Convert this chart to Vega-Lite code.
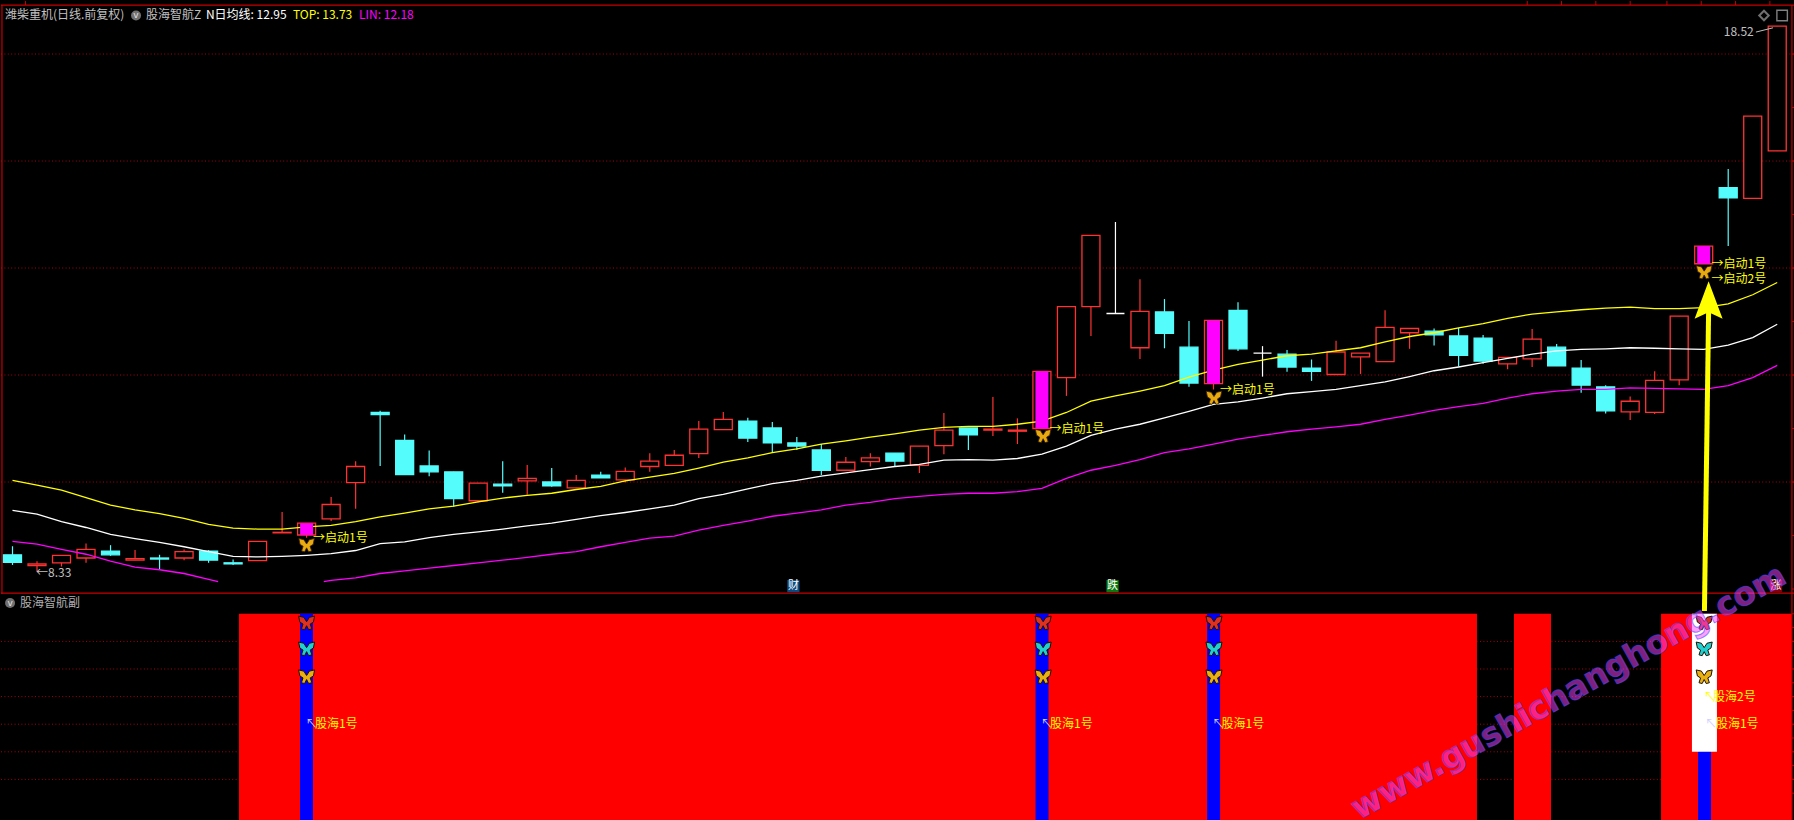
{"$schema":"https://vega.github.io/schema/vega-lite/v6.json","padding":0,"background":"#000000","spacing":0,"bounds":"flush","config":{"view":{"stroke":null},"legend":{"disable":true},"axis":{"disable":true}},"datasets":{"k":[
{"i":0,"d":"d","o":8.64,"c":8.50,"h":8.80,"l":8.45,"N":9.47,"T":10.03},
{"i":1,"d":"u","o":8.44,"c":8.47,"h":8.52,"l":8.33,"N":9.40,"T":9.94},
{"i":2,"d":"u","o":8.49,"c":8.63,"h":8.63,"l":8.42,"N":9.26,"T":9.85},
{"i":3,"d":"u","o":8.58,"c":8.74,"h":8.85,"l":8.49,"N":9.15,"T":9.71},
{"i":4,"d":"d","o":8.71,"c":8.64,"h":8.82,"l":8.62,"N":9.02,"T":9.57},
{"i":5,"d":"u","o":8.54,"c":8.57,"h":8.73,"l":8.54,"N":8.94,"T":9.48},
{"i":6,"d":"d","o":8.58,"c":8.56,"h":8.64,"l":8.37,"N":8.87,"T":9.41},
{"i":7,"d":"u","o":8.58,"c":8.70,"h":8.74,"l":8.54,"N":8.79,"T":9.32},
{"i":8,"d":"d","o":8.71,"c":8.54,"h":8.73,"l":8.49,"N":8.70,"T":9.21},
{"i":9,"d":"d","o":8.49,"c":8.47,"h":8.55,"l":8.45,"N":8.61,"T":9.14},
{"i":10,"d":"u","o":8.53,"c":8.89,"h":8.89,"l":8.53,"N":8.60,"T":9.12},
{"i":11,"d":"u","o":9.05,"c":9.06,"h":9.44,"l":9.05,"N":8.61,"T":9.12},
{"i":12,"d":"u","o":9.01,"c":9.23,"h":9.23,"l":8.96,"N":8.63,"T":9.16,"s":1},
{"i":13,"d":"u","o":9.31,"c":9.58,"h":9.72,"l":9.27,"N":8.66,"T":9.19},
{"i":14,"d":"u","o":9.99,"c":10.29,"h":10.39,"l":9.50,"N":8.72,"T":9.26},
{"i":15,"d":"d","o":11.30,"c":11.26,"h":11.33,"l":10.30,"N":8.85,"T":9.35},
{"i":16,"d":"d","o":10.78,"c":10.14,"h":10.89,"l":10.14,"N":8.88,"T":9.42},
{"i":17,"d":"d","o":10.30,"c":10.19,"h":10.59,"l":10.11,"N":8.96,"T":9.50},
{"i":18,"d":"d","o":10.19,"c":9.69,"h":10.19,"l":9.54,"N":9.02,"T":9.55},
{"i":19,"d":"u","o":9.65,"c":9.98,"h":9.98,"l":9.62,"N":9.07,"T":9.63},
{"i":20,"d":"d","o":9.96,"c":9.93,"h":10.39,"l":9.80,"N":9.12,"T":9.70},
{"i":21,"d":"u","o":10.02,"c":10.07,"h":10.32,"l":9.76,"N":9.18,"T":9.75},
{"i":22,"d":"d","o":10.00,"c":9.93,"h":10.26,"l":9.91,"N":9.23,"T":9.79},
{"i":23,"d":"u","o":9.89,"c":10.03,"h":10.13,"l":9.89,"N":9.30,"T":9.86},
{"i":24,"d":"d","o":10.13,"c":10.08,"h":10.19,"l":10.08,"N":9.37,"T":9.92},
{"i":25,"d":"u","o":10.04,"c":10.20,"h":10.27,"l":9.99,"N":9.43,"T":10.02},
{"i":26,"d":"u","o":10.29,"c":10.39,"h":10.54,"l":10.19,"N":9.50,"T":10.09},
{"i":27,"d":"u","o":10.31,"c":10.50,"h":10.60,"l":10.31,"N":9.57,"T":10.16},
{"i":28,"d":"u","o":10.53,"c":10.99,"h":11.14,"l":10.45,"N":9.69,"T":10.26},
{"i":29,"d":"u","o":10.98,"c":11.17,"h":11.31,"l":10.98,"N":9.77,"T":10.37},
{"i":30,"d":"d","o":11.14,"c":10.82,"h":11.20,"l":10.75,"N":9.87,"T":10.45},
{"i":31,"d":"d","o":11.01,"c":10.73,"h":11.12,"l":10.55,"N":9.97,"T":10.55},
{"i":32,"d":"d","o":10.73,"c":10.67,"h":10.84,"l":10.60,"N":10.03,"T":10.62},
{"i":33,"d":"d","o":10.60,"c":10.22,"h":10.71,"l":10.13,"N":10.11,"T":10.71},
{"i":34,"d":"u","o":10.22,"c":10.37,"h":10.47,"l":10.22,"N":10.17,"T":10.77},
{"i":35,"d":"u","o":10.38,"c":10.45,"h":10.54,"l":10.29,"N":10.23,"T":10.84},
{"i":36,"d":"d","o":10.54,"c":10.39,"h":10.54,"l":10.29,"N":10.29,"T":10.90},
{"i":37,"d":"u","o":10.31,"c":10.67,"h":10.67,"l":10.17,"N":10.33,"T":10.97},
{"i":38,"d":"u","o":10.68,"c":10.97,"h":11.29,"l":10.52,"N":10.41,"T":11.02},
{"i":39,"d":"d","o":11.01,"c":10.88,"h":11.01,"l":10.60,"N":10.42,"T":11.04},
{"i":40,"d":"u","o":10.97,"c":10.99,"h":11.59,"l":10.86,"N":10.41,"T":11.04},
{"i":41,"d":"u","o":10.95,"c":10.97,"h":11.19,"l":10.71,"N":10.44,"T":11.08},
{"i":42,"d":"u","o":11.00,"c":12.07,"h":12.07,"l":11.00,"N":10.52,"T":11.14,"s":1},
{"i":43,"d":"u","o":11.95,"c":13.28,"h":13.28,"l":11.61,"N":10.67,"T":11.30},
{"i":44,"d":"u","o":13.28,"c":14.61,"h":14.61,"l":12.73,"N":10.87,"T":11.51},
{"i":45,"d":"f","o":13.15,"c":13.15,"h":14.86,"l":13.15,"N":10.99,"T":11.61},
{"i":46,"d":"u","o":12.51,"c":13.19,"h":13.79,"l":12.30,"N":11.08,"T":11.70},
{"i":47,"d":"d","o":13.18,"c":12.78,"h":13.42,"l":12.50,"N":11.20,"T":11.80},
{"i":48,"d":"d","o":12.52,"c":11.85,"h":13.01,"l":11.78,"N":11.32,"T":11.96},
{"i":49,"d":"u","o":11.84,"c":13.02,"h":13.02,"l":11.73,"N":11.45,"T":12.09,"s":1},
{"i":50,"d":"d","o":13.21,"c":12.49,"h":13.36,"l":12.45,"N":11.50,"T":12.20},
{"i":51,"d":"f","o":12.41,"c":12.41,"h":12.54,"l":11.97,"N":11.57,"T":12.28},
{"i":52,"d":"d","o":12.39,"c":12.15,"h":12.47,"l":12.06,"N":11.65,"T":12.36},
{"i":53,"d":"d","o":12.13,"c":12.07,"h":12.29,"l":11.89,"N":11.69,"T":12.39},
{"i":54,"d":"u","o":12.01,"c":12.43,"h":12.64,"l":12.01,"N":11.73,"T":12.45},
{"i":55,"d":"u","o":12.34,"c":12.41,"h":12.41,"l":12.02,"N":11.80,"T":12.51},
{"i":56,"d":"u","o":12.25,"c":12.89,"h":13.21,"l":12.25,"N":11.87,"T":12.62},
{"i":57,"d":"u","o":12.79,"c":12.87,"h":12.87,"l":12.49,"N":11.97,"T":12.72},
{"i":58,"d":"d","o":12.82,"c":12.75,"h":12.87,"l":12.55,"N":12.08,"T":12.79},
{"i":59,"d":"d","o":12.73,"c":12.37,"h":12.88,"l":12.16,"N":12.15,"T":12.88},
{"i":60,"d":"d","o":12.69,"c":12.26,"h":12.75,"l":12.21,"N":12.23,"T":12.96},
{"i":61,"d":"u","o":12.21,"c":12.33,"h":12.33,"l":12.11,"N":12.31,"T":13.06},
{"i":62,"d":"u","o":12.30,"c":12.67,"h":12.86,"l":12.15,"N":12.39,"T":13.14},
{"i":63,"d":"d","o":12.52,"c":12.17,"h":12.58,"l":12.17,"N":12.45,"T":13.18},
{"i":64,"d":"d","o":12.13,"c":11.81,"h":12.28,"l":11.67,"N":12.48,"T":13.22},
{"i":65,"d":"d","o":11.78,"c":11.33,"h":11.81,"l":11.28,"N":12.49,"T":13.25},
{"i":66,"d":"u","o":11.31,"c":11.51,"h":11.60,"l":11.16,"N":12.51,"T":13.27},
{"i":67,"d":"u","o":11.30,"c":11.90,"h":12.07,"l":11.27,"N":12.50,"T":13.24},
{"i":68,"d":"u","o":11.91,"c":13.10,"h":13.10,"l":11.81,"N":12.49,"T":13.24},
{"i":69,"d":"u","o":14.08,"c":14.41,"h":14.41,"l":14.08,"N":12.48,"T":13.26,"s":1},
{"i":70,"d":"d","o":15.50,"c":15.31,"h":15.85,"l":14.41,"N":12.56,"T":13.33},
{"i":71,"d":"u","o":15.30,"c":16.84,"h":16.84,"l":15.30,"N":12.70,"T":13.50},
{"i":72,"d":"u","o":16.19,"c":18.52,"h":18.52,"l":16.19,"N":12.95,"T":13.73}
],"lin":[
{"i":0,"p":8.89,"g":"a"},{"i":1,"p":8.84,"g":"a"},{"i":2,"p":8.74,"g":"a"},{"i":3,"p":8.65,"g":"a"},{"i":4,"p":8.52,"g":"a"},{"i":5,"p":8.41,"g":"a"},{"i":6,"p":8.36,"g":"a"},{"i":7,"p":8.29,"g":"a"},{"i":8,"p":8.18,"g":"a"},{"i":8.39,"p":8.14,"g":"a"},
{"i":12.7,"p":8.14,"g":"b"},{"i":13,"p":8.16,"g":"b"},{"i":14,"p":8.21,"g":"b"},{"i":15,"p":8.29,"g":"b"},{"i":16,"p":8.34,"g":"b"},{"i":17,"p":8.39,"g":"b"},{"i":18,"p":8.44,"g":"b"},{"i":19,"p":8.49,"g":"b"},{"i":20,"p":8.54,"g":"b"},{"i":21,"p":8.59,"g":"b"},{"i":22,"p":8.65,"g":"b"},{"i":23,"p":8.70,"g":"b"},{"i":24,"p":8.79,"g":"b"},{"i":25,"p":8.87,"g":"b"},{"i":26,"p":8.95,"g":"b"},{"i":27,"p":8.99,"g":"b"},{"i":28,"p":9.10,"g":"b"},{"i":29,"p":9.19,"g":"b"},{"i":30,"p":9.27,"g":"b"},{"i":31,"p":9.36,"g":"b"},{"i":32,"p":9.42,"g":"b"},{"i":33,"p":9.48,"g":"b"},{"i":34,"p":9.57,"g":"b"},{"i":35,"p":9.62,"g":"b"},{"i":36,"p":9.69,"g":"b"},{"i":37,"p":9.73,"g":"b"},{"i":38,"p":9.77,"g":"b"},{"i":39,"p":9.79,"g":"b"},{"i":40,"p":9.79,"g":"b"},{"i":41,"p":9.82,"g":"b"},{"i":42,"p":9.88,"g":"b"},{"i":43,"p":10.07,"g":"b"},{"i":44,"p":10.22,"g":"b"},{"i":45,"p":10.31,"g":"b"},{"i":46,"p":10.42,"g":"b"},{"i":47,"p":10.55,"g":"b"},{"i":48,"p":10.62,"g":"b"},{"i":49,"p":10.71,"g":"b"},{"i":50,"p":10.80,"g":"b"},{"i":51,"p":10.87,"g":"b"},{"i":52,"p":10.94,"g":"b"},{"i":53,"p":10.99,"g":"b"},{"i":54,"p":11.03,"g":"b"},{"i":55,"p":11.08,"g":"b"},{"i":56,"p":11.17,"g":"b"},{"i":57,"p":11.25,"g":"b"},{"i":58,"p":11.34,"g":"b"},{"i":59,"p":11.41,"g":"b"},{"i":60,"p":11.47,"g":"b"},{"i":61,"p":11.57,"g":"b"},{"i":62,"p":11.65,"g":"b"},{"i":63,"p":11.70,"g":"b"},{"i":64,"p":11.73,"g":"b"},{"i":65,"p":11.73,"g":"b"},{"i":66,"p":11.76,"g":"b"},{"i":67,"p":11.75,"g":"b"},{"i":68,"p":11.74,"g":"b"},{"i":69,"p":11.73,"g":"b"},{"i":70,"p":11.80,"g":"b"},{"i":71,"p":11.95,"g":"b"},{"i":72,"p":12.18,"g":"b"}
]},"vconcat":[{"width":1794,"height":593,"encoding":{"x":{"field":"i","type":"quantitative","scale":{"domain":[-0.469,72.725],"nice":false,"padding":0}},"y":{"field":"p","type":"quantitative","scale":{"domain":[7.907,18.991],"nice":false}}},"resolve":{"scale":{"color":"independent"}},"layer":[
{"data":{"values":[{"p":18},{"p":16},{"p":14},{"p":12},{"p":10}]},"mark":{"type":"rule","color":"#a80010","strokeDash":[1,2.4],"strokeWidth":1},"encoding":{"x":{"value":0},"x2":{"value":1794}}},
{"data":{"values":[{"p":18.915},{"p":7.925}]},"mark":{"type":"rule","color":"#c80000","strokeWidth":1.2},"encoding":{"x":{"value":0},"x2":{"value":1794}}},
{"data":{"values":[{"i":-0.43},{"i":72.6}]},"mark":{"type":"rule","color":"#c80000","strokeWidth":1.2},"encoding":{"y":{"value":4},"y2":{"value":593}}},
{"data":{"values":[{"i":0.53,"t":18.99,"b":18.915},{"i":61.8,"t":18.99,"b":18.915},{"i":63.2,"t":18.99,"b":18.915},{"i":64.6,"t":18.99,"b":18.915},{"i":66,"t":18.99,"b":18.915},{"i":67.5,"t":18.99,"b":18.915},{"i":68.9,"t":18.99,"b":18.915},{"i":70.3,"t":18.99,"b":18.915},{"i":71.7,"t":18.99,"b":18.915}]},"mark":{"type":"rule","color":"#c80000"},"encoding":{"y":{"field":"t","type":"quantitative"},"y2":{"field":"b"}}},
{"data":{"values":[{"i":72.6,"e":72.725,"p":18},{"i":72.6,"e":72.725,"p":17},{"i":72.6,"e":72.725,"p":16},{"i":72.6,"e":72.725,"p":15},{"i":72.6,"e":72.725,"p":14},{"i":72.6,"e":72.725,"p":13},{"i":72.6,"e":72.725,"p":12},{"i":72.6,"e":72.725,"p":11},{"i":72.6,"e":72.725,"p":10},{"i":72.6,"e":72.725,"p":9},{"i":72.6,"e":72.725,"p":8}]},"mark":{"type":"rule","color":"#c80000"},"encoding":{"x2":{"field":"e"}}},
{"data":{"name":"k"},"mark":{"type":"rule","strokeWidth":1.2},"encoding":{"y":{"field":"h","type":"quantitative"},"y2":{"field":"l"},"color":{"field":"d","type":"nominal","scale":{"domain":["u","d","f"],"range":["#ff3232","#54fcfc","#ffffff"]}}}},
{"data":{"name":"k"},"mark":{"type":"bar","size":18,"orient":"vertical","strokeWidth":1.3},"encoding":{"y":{"field":"o","type":"quantitative"},"y2":{"field":"c"},"fill":{"field":"d","type":"nominal","scale":{"domain":["u","d","f"],"range":["#000000","#54fcfc","#ffffff"]}},"stroke":{"field":"d","type":"nominal","scale":{"domain":["u","d","f"],"range":["#ff3232","#54fcfc","#ffffff"]}}}},
{"data":{"name":"k"},"mark":{"type":"line","color":"#ffff00","strokeWidth":1.3},"encoding":{"y":{"field":"T","type":"quantitative"}}},
{"data":{"name":"k"},"mark":{"type":"line","color":"#ffffff","strokeWidth":1.3},"encoding":{"y":{"field":"N","type":"quantitative"}}},
{"data":{"name":"lin"},"mark":{"type":"line","color":"#ff00ff","strokeWidth":1.3},"encoding":{"detail":{"field":"g","type":"nominal"}}},
{"data":{"name":"k"},"transform":[{"filter":"datum.s==1"}],"mark":{"type":"bar","size":13,"orient":"vertical","color":"#ff00ff"},"encoding":{"y":{"field":"o","type":"quantitative"},"y2":{"field":"c"}}},
{"data":{"values":[{"i":12,"p":8.82},{"i":42.05,"p":10.86},{"i":49.02,"p":11.575},{"i":69.02,"p":13.92}]},"mark":{"type":"point","filled":true,"size":240,"fill":"#e8aa10","stroke":"#3a2200","strokeWidth":0.8,"opacity":1,"shape":"M0,-0.15 L-0.35,-0.7 L-1,-0.85 L-0.85,-0.1 L-0.45,0.15 L-0.65,0.75 L-0.25,0.85 L0,0.35 L0.25,0.85 L0.65,0.75 L0.45,0.15 L0.85,-0.1 L1,-0.85 L0.35,-0.7 Z"}},
{"data":{"values":[{"i":69.03,"e":69.2,"p":7.59,"q":13.18}]},"mark":{"type":"rule","color":"#ffff00","strokeWidth":5},"encoding":{"x2":{"field":"e"},"y2":{"field":"q"}}},
{"data":{"values":[{"i":69.2,"p":13.4}]},"mark":{"type":"point","filled":true,"size":784,"fill":"#ffff00","opacity":1,"shape":"M0,-1.35 L1,1.33 L0,0.86 L-1,1.33 Z"}},
{"data":{"values":[{"i":5.04,"p":18.72}]},"mark":{"type":"point","filled":true,"size":100,"opacity":1,"fill":"#707070"}},
{"data":{"values":[{"i":71.46,"p":18.72}]},"mark":{"type":"point","shape":"diamond","size":90,"stroke":"#707070","fill":null,"opacity":1}},
{"data":{"values":[{"i":72.2,"p":18.72}]},"mark":{"type":"point","shape":"square","size":110,"stroke":"#808080","strokeWidth":1.4,"fill":"#000000","opacity":1}},
{"data":{"values":[{"i":31.86,"p":8.055,"k":"c"},{"i":44.88,"p":8.055,"k":"f"},{"i":71.95,"p":8.055,"k":"z"}]},"mark":{"type":"square","size":150,"opacity":1},"encoding":{"color":{"field":"k","type":"nominal","scale":{"domain":["c","f","z"],"range":["#0a4a80","#0a7a10","#800010"]}}}},
{"data":{"values":[{"i":31.86,"p":8.055,"t":"财"},{"i":44.88,"p":8.055,"t":"跌"},{"i":71.95,"p":8.055,"t":"涨"}]},"mark":{"type":"text","font":"Noto Sans CJK SC","fontSize":11,"color":"#ffffff","align":"center","baseline":"middle"},"encoding":{"text":{"field":"t"}}},
{"data":{"values":[{"i":5.04,"p":18.72,"t":"v"}]},"mark":{"type":"text","font":"DejaVu Sans","fontSize":9,"color":"#e0e0e0","align":"center","baseline":"middle"},"encoding":{"text":{"field":"t"}}},
{"data":{"values":[
{"i":-0.31,"p":18.73,"t":"潍柴重机(日线.前复权)","k":"g"},
{"i":5.45,"p":18.73,"t":"股海智航Z","k":"g"},
{"i":7.89,"p":18.73,"t":"N日均线: 12.95","k":"w"},
{"i":11.44,"p":18.73,"t":"TOP: 13.73","k":"y"},
{"i":14.14,"p":18.73,"t":"LIN: 12.18","k":"m"},
{"i":12.26,"p":8.96,"t":"→启动1号","k":"y"},
{"i":42.31,"p":11.0,"t":"→启动1号","k":"y"},
{"i":49.27,"p":11.72,"t":"→启动1号","k":"y"},
{"i":69.32,"p":14.07,"t":"→启动1号","k":"y"},
{"i":69.32,"p":13.79,"t":"→启动2号","k":"y"},
{"i":0.96,"p":8.3,"t":"←8.33","k":"g"},
{"i":69.82,"p":18.42,"t":"18.52","k":"g"}
]},"mark":{"type":"text","font":"Noto Sans CJK SC","fontSize":12,"align":"left","baseline":"middle"},"encoding":{"text":{"field":"t"},"color":{"field":"k","type":"nominal","scale":{"domain":["g","w","y","m"],"range":["#c0c0c0","#ffffff","#ffff00","#ff00ff"]}}}},
{"data":{"values":[{"i":71.13,"e":71.83,"p":18.41,"q":18.49}]},"mark":{"type":"rule","color":"#c0c0c0"},"encoding":{"x2":{"field":"e"},"y2":{"field":"q"}}}
]},
{"width":1794,"height":227,"encoding":{"x":{"field":"i","type":"quantitative","scale":{"domain":[-0.469,72.725],"nice":false,"padding":0}},"y":{"field":"v","type":"quantitative","scale":{"domain":[-0.507,7.717],"nice":false}}},"resolve":{"scale":{"color":"independent"}},"layer":[
{"data":{"values":[{"v":1},{"v":2},{"v":3},{"v":4},{"v":5},{"v":6}]},"mark":{"type":"rule","color":"#a80010","strokeDash":[1,2.4],"strokeWidth":1},"encoding":{"x":{"value":0},"x2":{"value":1794}}},
{"data":{"values":[
{"i":9.24,"e":59.75,"v":7,"b":-0.507,"k":"r"},{"i":61.26,"e":62.77,"v":7,"b":-0.507,"k":"r"},{"i":67.26,"e":72.6,"v":7,"b":-0.507,"k":"r"},
{"i":11.73,"e":12.26,"v":7,"b":-0.507,"k":"b"},{"i":41.74,"e":42.27,"v":7,"b":-0.507,"k":"b"},{"i":48.74,"e":49.27,"v":7,"b":-0.507,"k":"b"},{"i":68.77,"e":69.3,"v":7,"b":-0.507,"k":"b"},
{"i":68.52,"e":69.54,"v":7,"b":2,"k":"w"}]},"mark":{"type":"rect","opacity":1},"encoding":{"x2":{"field":"e"},"y2":{"field":"b"},"color":{"field":"k","type":"nominal","scale":{"domain":["r","b","w"],"range":["#ff0000","#0000ff","#ffffff"]}}}},
{"data":{"values":[{"i":72.6}]},"mark":{"type":"rule","color":"#c80000","strokeWidth":1.2},"encoding":{"y":{"value":0},"y2":{"value":227}}},
{"data":{"values":[{"i":72.6,"e":72.725,"v":0.5},{"i":72.6,"e":72.725,"v":1},{"i":72.6,"e":72.725,"v":1.5},{"i":72.6,"e":72.725,"v":2},{"i":72.6,"e":72.725,"v":2.5},{"i":72.6,"e":72.725,"v":3},{"i":72.6,"e":72.725,"v":3.5},{"i":72.6,"e":72.725,"v":4},{"i":72.6,"e":72.725,"v":4.5},{"i":72.6,"e":72.725,"v":5},{"i":72.6,"e":72.725,"v":5.5},{"i":72.6,"e":72.725,"v":6},{"i":72.6,"e":72.725,"v":6.5},{"i":72.6,"e":72.725,"v":7}]},"mark":{"type":"rule","color":"#c80000"},"encoding":{"x2":{"field":"e"}}},
{"data":{"values":[{"i":-0.1,"v":7.39}]},"mark":{"type":"point","filled":true,"size":100,"fill":"#707070","opacity":1}},
{"data":{"values":[{"i":-0.1,"v":7.39,"t":"v"}]},"mark":{"type":"text","font":"DejaVu Sans","fontSize":9,"color":"#e0e0e0","align":"center","baseline":"middle"},"encoding":{"text":{"field":"t"}}},
{"data":{"values":[
{"i":12,"v":6.67,"k":"r"},{"i":12,"v":5.73,"k":"c"},{"i":12,"v":4.72,"k":"y"},
{"i":42.05,"v":6.67,"k":"r"},{"i":42.05,"v":5.73,"k":"c"},{"i":42.05,"v":4.72,"k":"y"},
{"i":49.02,"v":6.67,"k":"r"},{"i":49.02,"v":5.73,"k":"c"},{"i":49.02,"v":4.72,"k":"y"},
{"i":69.02,"v":6.67,"k":"r"},{"i":69.02,"v":5.73,"k":"c"},{"i":69.02,"v":4.72,"k":"y"}]},"mark":{"type":"point","filled":true,"size":256,"stroke":"#201000","strokeWidth":1,"opacity":1,"shape":"M0,-0.15 L-0.35,-0.7 L-1,-0.85 L-0.85,-0.1 L-0.45,0.15 L-0.65,0.75 L-0.25,0.85 L0,0.35 L0.25,0.85 L0.65,0.75 L0.45,0.15 L0.85,-0.1 L1,-0.85 L0.35,-0.7 Z"},"encoding":{"color":{"field":"k","type":"nominal","scale":{"domain":["r","c","y"],"range":["#e03020","#20d0d0","#e8b010"]}}}},
{"data":{"values":[
{"i":0.31,"v":7.39,"t":"股海智航副","k":"g"},
{"i":11.95,"v":3,"t":"↖","k":"w"},{"i":12.34,"v":3,"t":"股海1号","k":"y"},
{"i":41.95,"v":3,"t":"↖","k":"w"},{"i":42.33,"v":3,"t":"股海1号","k":"y"},
{"i":48.95,"v":3,"t":"↖","k":"w"},{"i":49.33,"v":3,"t":"股海1号","k":"y"},
{"i":69.05,"v":3,"t":"↖","k":"w"},{"i":69.5,"v":3,"t":"股海1号","k":"y"},
{"i":69.0,"v":4,"t":"↖","k":"y"},{"i":69.38,"v":4,"t":"股海2号","k":"y"}]},"mark":{"type":"text","font":"Noto Sans CJK SC","fontSize":12,"align":"left","baseline":"middle"},"encoding":{"text":{"field":"t"},"color":{"field":"k","type":"nominal","scale":{"domain":["g","w","y"],"range":["#b0b0b0","#d0d0ff","#ffff00"]}}}},
{"data":{"values":[{"i":63.5,"v":4.16,"t":"www.gushichanghong.com"}]},"mark":{"type":"text","font":"DejaVu Sans","fontWeight":"bold","fontSize":32.5,"angle":-29,"align":"center","baseline":"middle","color":"#ff40ff","fillOpacity":0.5,"stroke":"#4848ff","strokeOpacity":0.6,"strokeWidth":1},"encoding":{"text":{"field":"t"}}}
]}]}
